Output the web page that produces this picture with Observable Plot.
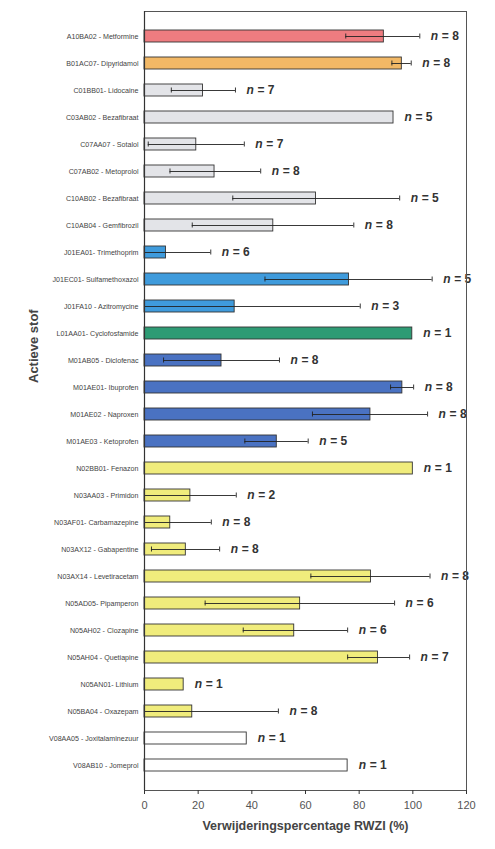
<!DOCTYPE html>
<html>
<head>
<meta charset="utf-8">
<script src="https://cdn.jsdelivr.net/npm/d3@7"></script>
<script src="https://cdn.jsdelivr.net/npm/@observablehq/plot@0.6"></script>
<style>
  html, body { margin: 0; padding: 0; background: #fff; }
  #chart { width: 495px; height: 849px; }
</style>
</head>
<body>
<div id="chart"></div>
<script>
const labels = [
  "A10BA02 - Metformine",
  "B01AC07- Dipyridamol",
  "C01BB01- Lidocaine",
  "C03AB02 - Bezafibraat",
  "C07AA07 - Sotalol",
  "C07AB02 - Metoprolol",
  "C10AB02 - Bezafibraat",
  "C10AB04 - Gemfibrozil",
  "J01EA01- Trimethoprim",
  "J01EC01- Sulfamethoxazol",
  "J01FA10 - Azitromycine",
  "L01AA01- Cyclofosfamide",
  "M01AB05 - Diclofenac",
  "M01AE01- Ibuprofen",
  "M01AE02 - Naproxen",
  "M01AE03 - Ketoprofen",
  "N02BB01- Fenazon",
  "N03AA03 - Primidon",
  "N03AF01- Carbamazepine",
  "N03AX12 - Gabapentine",
  "N03AX14 - Levetiracetam",
  "N05AD05- Pipamperon",
  "N05AH02 - Clozapine",
  "N05AH04 - Quetiapine",
  "N05AN01- Lithium",
  "N05BA04 - Oxazepam",
  "V08AA05 - Joxitalaminezuur",
  "V08AB10 - Jomeprol"
];
const values = [89.2, 95.9, 21.8, 92.8, 19.3, 26.1, 63.9, 48.0, 8.0, 76.2, 33.6, 99.8, 28.7, 96.1,
                84.2, 49.3, 100.0, 17.1, 9.6, 15.4, 84.4, 58.0, 55.8, 87.0, 14.6, 17.8, 38.1, 75.7];
const lows = [75.0, 92.2, 10.0, null, 1.4, 9.5, 32.9, 17.8, 0, 44.9, 0, null, 7.1, 91.7,
              62.6, 37.4, null, 0, 0, 2.6, 62.0, 22.6, 36.8, 75.7, null, 0, null, null];
const highs = [102.6, 99.4, 33.9, null, 37.2, 43.3, 95.1, 78.0, 24.7, 107.2, 80.4, null, 50.3, 100.3,
               105.5, 61.0, null, 34.2, 24.9, 28.0, 106.4, 93.2, 75.7, 98.8, null, 49.9, null, null];
const ns = [8, 8, 7, 5, 7, 8, 5, 8, 6, 5, 3, 1, 8, 8, 8, 5, 1, 2, 8, 8, 8, 6, 6, 7, 1, 8, 1, 1];
const groups = ["A", "B", "C", "J", "L", "M", "N", "V"];
const groupColors = ["#ee7c80", "#f2b866", "#e3e4e8", "#3f9bdc", "#2e9b74", "#4a72c2", "#f0ec7c", "#ffffff"];
const xTicks = [0, 20, 40, 60, 80, 100, 120];

const rows = labels.map((label, i) => ({
  label, value: values[i], low: lows[i], high: highs[i], n: ns[i], group: label[0]
}));
const errRows = rows.filter(d => d.high != null);

const font = "Liberation Sans, Arial, sans-serif";

const chart = Plot.plot({
  width: 495,
  height: 849,
  marginTop: 11,
  marginBottom: 59,
  marginLeft: 144,
  marginRight: 29,
  style: { fontFamily: font, background: "#fff" },
  x: { domain: [0, 120] },
  y: { domain: labels, paddingInner: 0.57, paddingOuter: 0.285 },
  color: { domain: groups, range: groupColors },
  marks: [
    Plot.barX(rows, { x: "value", y: "label", fill: "group", stroke: "#333", strokeWidth: 0.9 }),
    Plot.ruleY(errRows, { y: "label", x1: "low", x2: "high", stroke: "#222", strokeWidth: 0.9 }),
    Plot.tickX(errRows.filter(d => d.low > 0), { x: "low", y: "label", stroke: "#222", strokeWidth: 0.9, insetTop: 3.5, insetBottom: 3.5 }),
    Plot.tickX(errRows, { x: "high", y: "label", stroke: "#222", strokeWidth: 0.9, insetTop: 3.5, insetBottom: 3.5 }),
    Plot.text(rows, { x: d => Math.max(d.value, d.high ?? 0), y: "label", text: () => "n", dx: 11, textAnchor: "start",
      fontSize: 12, fontWeight: "bold", fontStyle: "italic", fill: "#333" }),
    Plot.text(rows, { x: d => Math.max(d.value, d.high ?? 0), y: "label", text: d => "= " + d.n, dx: 22, textAnchor: "start",
      fontSize: 12, fontWeight: "bold", fill: "#333" }),
    Plot.frame({ stroke: "#555", strokeWidth: 1 }),
    Plot.ruleX([0], { stroke: "#333", strokeWidth: 1.2 }),
    Plot.axisY({ tickSize: 0, tickPadding: 6, fontSize: 7.1, fill: "#444", label: null }),
    Plot.axisX({ ticks: xTicks, tickSize: 4, tickPadding: 7, fontSize: 11, fill: "#555", stroke: "#333", label: null }),
    Plot.text(["Actieve stof"], { frameAnchor: "left", dx: -111, dy: -18, rotate: -90, fontSize: 13, fontWeight: "bold", fill: "#444" }),
    Plot.text(["Verwijderingspercentage RWZI (%)"], { frameAnchor: "bottom", dy: 39, fontSize: 12.5, fontWeight: "bold", fill: "#444" })
  ]
});
document.getElementById("chart").appendChild(chart);
</script>
</body>
</html>
